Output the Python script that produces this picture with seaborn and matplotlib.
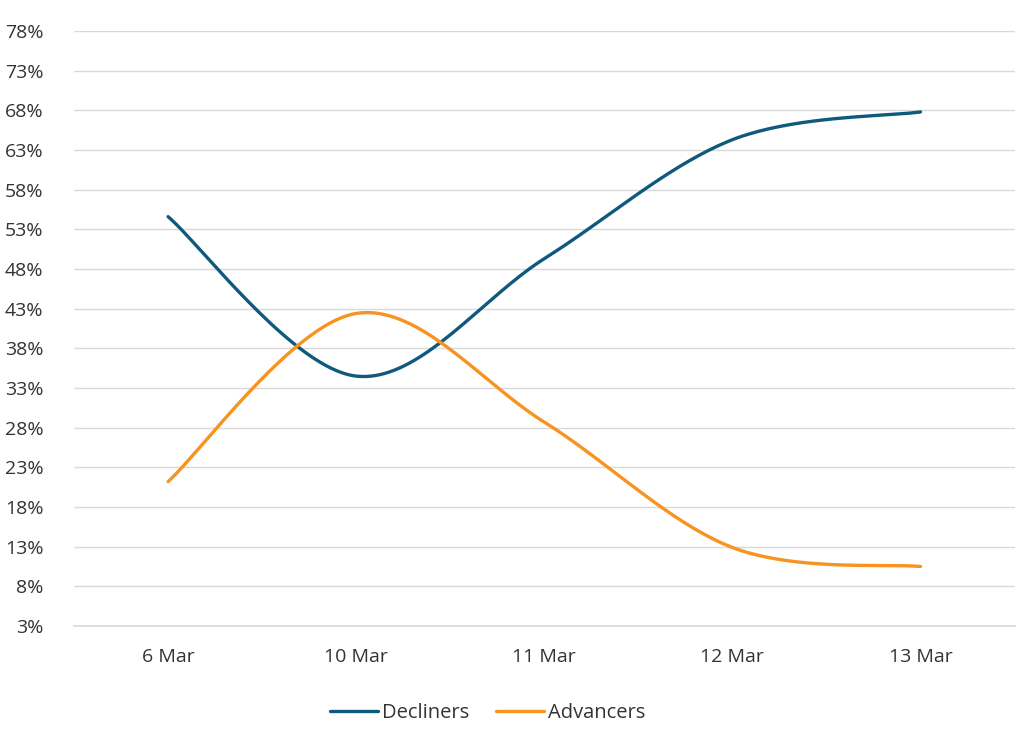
import numpy as np
import pandas as pd
import matplotlib
matplotlib.use("Agg")
import matplotlib.pyplot as plt
import seaborn as sns

categories = ["6 Mar", "10 Mar", "11 Mar", "12 Mar", "13 Mar"]
decliners = [54.6, 34.5, 49.3, 64.3, 67.8]
advancers = [21.2, 42.4, 28.7, 12.9, 10.5]
yticks = list(range(3, 79, 5))

def catmull_rom(y, n=40):
    x = np.arange(len(y), dtype=float)
    y = np.asarray(y, dtype=float)
    px = np.concatenate([[x[0]], x, [x[-1]]])
    py = np.concatenate([[y[0]], y, [y[-1]]])
    xs, ys = [], []
    for i in range(1, len(px) - 2):
        p0, p1, p2, p3 = (np.array([px[j], py[j]]) for j in range(i - 1, i + 3))
        c1 = p1 + (p2 - p0) / 6
        c2 = p2 - (p3 - p1) / 6
        t = np.linspace(0, 1, n)[:, None]
        b = (1 - t) ** 3 * p1 + 3 * (1 - t) ** 2 * t * c1 + 3 * (1 - t) * t ** 2 * c2 + t ** 3 * p2
        xs.extend(b[:, 0]); ys.extend(b[:, 1])
    return np.array(xs), np.array(ys)

rows = []
for name, vals in [("Decliners", decliners), ("Advancers", advancers)]:
    sx, sy = catmull_rom(vals)
    for i, (a, b) in enumerate(zip(sx, sy)):
        rows.append({"x": a, "y": b, "series": name, "order": i})
df = pd.DataFrame(rows)

sns.set_theme(style="white")
plt.rcParams["font.family"] = ["Open Sans", "DejaVu Sans"]

fig = plt.figure(figsize=(10.24, 7.31), dpi=100)
ax = fig.add_axes([0.0723, 0.1436, 0.9185, 0.814])

sns.lineplot(data=df, x="x", y="y", hue="series", sort=False, estimator=None,
             palette={"Decliners": "#0F5A7C", "Advancers": "#F7931E"},
             linewidth=2.4, ax=ax)

ax.set_xlim(-0.5, 4.5)
ax.set_ylim(3, 78)
ax.set_yticks(yticks)
ax.set_yticklabels([f"{v}%" for v in yticks])
ax.set_xticks(range(len(categories)))
ax.set_xticklabels(categories)
ax.set_xlabel("")
ax.set_ylabel("")
ax.grid(axis="y", color="#D9D9D9", linewidth=1)
ax.set_axisbelow(True)
for s in ["top", "right", "left"]:
    ax.spines[s].set_visible(False)
ax.spines["bottom"].set_color("#D9D9D9")
ax.spines["bottom"].set_linewidth(1.2)
ax.tick_params(axis="both", length=0, labelsize=14, colors="#333333")
ax.tick_params(axis="x", pad=16)
ax.tick_params(axis="y", pad=22)

leg = ax.legend(loc="center", bbox_to_anchor=(0.44, -0.146), ncol=2,
                frameon=False, fontsize=14.5, handlelength=2.4, columnspacing=1.3,
                handletextpad=0.2)
for t in leg.get_texts():
    t.set_color("#333333")

fig.savefig("out.png", dpi=100)
